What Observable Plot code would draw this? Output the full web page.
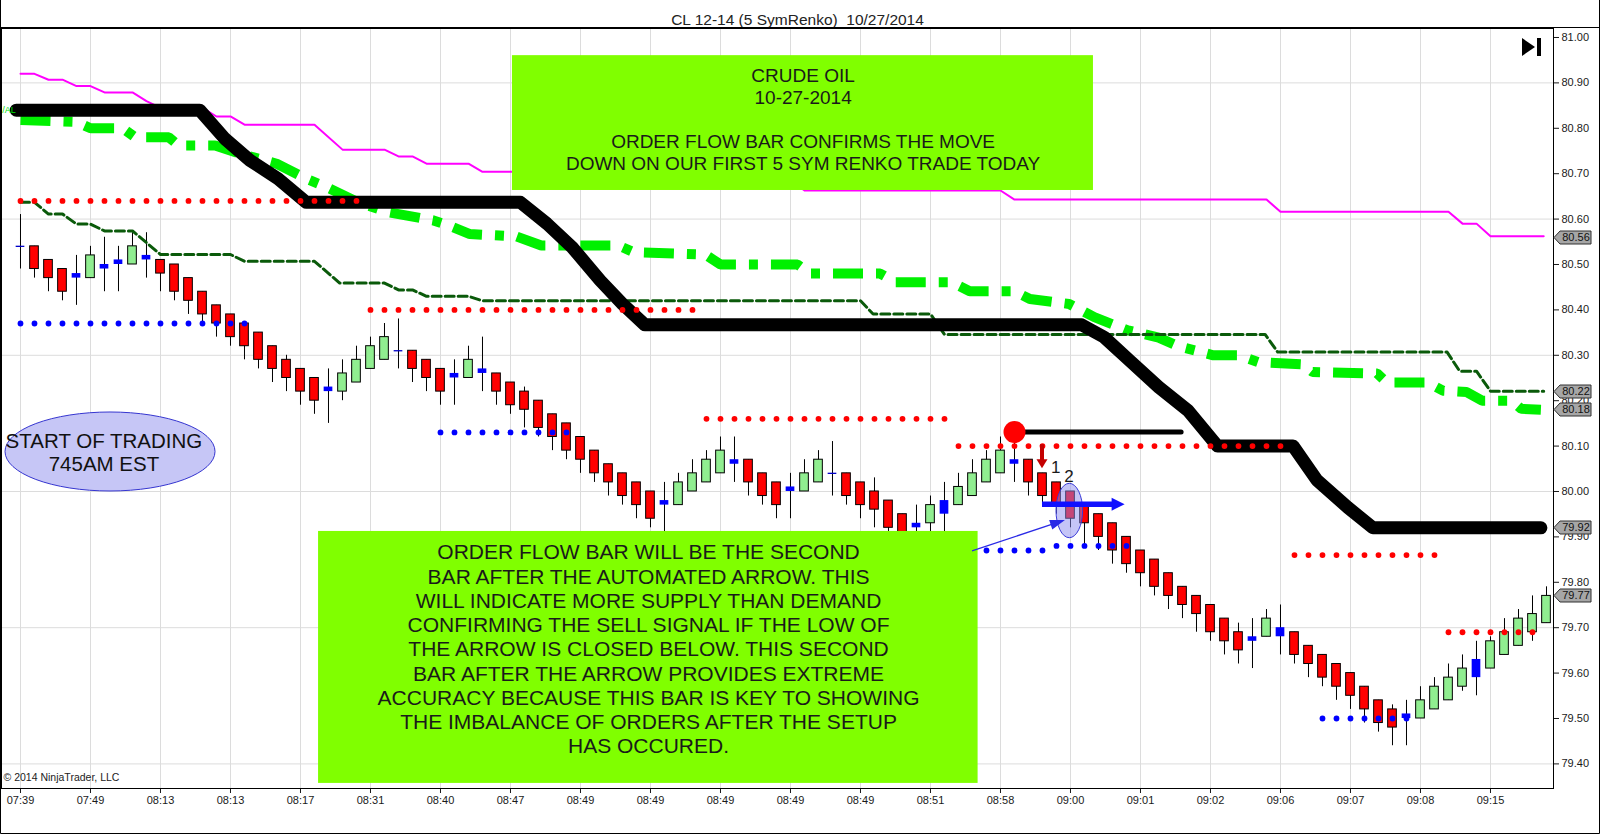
<!DOCTYPE html>
<html><head><meta charset="utf-8">
<script src="https://cdn.jsdelivr.net/npm/d3@7"></script>
<script src="https://cdn.jsdelivr.net/npm/@observablehq/plot@0.6"></script>
<style>
html,body{margin:0;padding:0;background:#fff;}
#chart{position:relative;width:1600px;height:834px;overflow:hidden;}
</style></head><body><div id="chart"></div>
<script>
// ---------------- data ----------------
const chartTitle = "CL 12-14 (5 SymRenko)  10/27/2014";
const timeLabels = ["07:39","07:49","08:13","08:13","08:17","08:31","08:40","08:47","08:49","08:49","08:49","08:49","08:49","08:51","08:58","09:00","09:01","09:02","09:06","09:07","09:08","09:15"];
const yTickLabels = ["79.40","79.50","79.60","79.70","79.80","79.90","80.00","80.10","80.20","80.30","80.40","80.50","80.60","80.70","80.80","80.90","81.00"];
const gridPrices = [79.40, 79.70, 80.00, 80.30, 80.60, 80.90];

const open = [80.54,80.54,80.51,80.49,80.48,80.47,80.50,80.51,80.50,80.52, 80.51,80.50,80.47,80.44,80.41,80.39,80.37,80.35,80.32,80.29, 80.27,80.25,80.23,80.22,80.24,80.27,80.29,80.31,80.31,80.29, 80.27,80.26,80.25,80.27,80.26,80.24,80.22,80.20,80.17,80.15, 80.12,80.09,80.06,80.04,80.02,80.00,79.98,79.97,80.00,80.02, 80.04,80.07,80.07,80.04,80.02,80.01,80.00,80.02,80.04,80.04, 80.02,80.00,79.98,79.95,79.93,79.93,79.95,79.97,79.99,80.02, 80.04,80.07,80.07,80.04,80.02,80.00,79.97,79.95,79.93,79.90, 79.87,79.85,79.82,79.79,79.77,79.75,79.72,79.69,79.68,79.68, 79.70,79.69,79.66,79.64,79.62,79.60,79.57,79.54,79.52,79.51, 79.50,79.52,79.54,79.57,79.59,79.61,79.64,79.66,79.69,79.71];
const high = [80.61,80.54,80.51,80.49,80.52,80.54,80.56,80.54,80.57,80.57, 80.51,80.50,80.47,80.44,80.41,80.39,80.37,80.35,80.32,80.30, 80.27,80.25,80.27,80.29,80.32,80.34,80.37,80.38,80.31,80.29, 80.27,80.29,80.32,80.34,80.26,80.24,80.23,80.20,80.17,80.15, 80.12,80.09,80.06,80.04,80.02,80.00,80.02,80.04,80.07,80.09, 80.12,80.12,80.07,80.04,80.02,80.04,80.07,80.09,80.11,80.04, 80.02,80.03,79.98,79.95,79.97,79.99,80.02,80.04,80.07,80.09, 80.12,80.13,80.07,80.04,80.02,80.00,79.97,79.95,79.93,79.90, 79.87,79.85,79.82,79.79,79.77,79.75,79.72,79.71,79.72,79.74, 79.75,79.69,79.66,79.64,79.62,79.60,79.57,79.54,79.53,79.54, 79.57,79.59,79.62,79.64,79.67,79.68,79.72,79.74,79.77,79.79];
const low = [80.49,80.47,80.44,80.42,80.41,80.47,80.44,80.44,80.50,80.47, 80.44,80.42,80.39,80.37,80.34,80.32,80.29,80.27,80.24,80.22, 80.19,80.17,80.15,80.20,80.24,80.27,80.29,80.27,80.24,80.22, 80.19,80.19,80.25,80.22,80.19,80.17,80.14,80.12,80.09,80.07, 80.04,80.02,79.99,79.97,79.94,79.92,79.91,79.97,80.00,80.02, 80.04,80.02,79.99,79.97,79.94,79.94,80.00,80.02,79.99,79.97, 79.94,79.92,79.90,79.88,79.89,79.91,79.91,79.97,79.99,80.02, 80.04,80.02,79.99,79.97,79.95,79.92,79.88,79.87,79.84,79.82, 79.79,79.77,79.74,79.72,79.69,79.67,79.64,79.62,79.61,79.68, 79.64,79.62,79.59,79.57,79.54,79.52,79.49,79.47,79.44,79.44, 79.50,79.52,79.54,79.56,79.55,79.61,79.64,79.66,79.67,79.71];
const close = [80.54,80.49,80.47,80.44,80.47,80.52,80.49,80.50,80.54,80.51, 80.48,80.44,80.42,80.39,80.37,80.34,80.32,80.29,80.27,80.25, 80.22,80.20,80.22,80.26,80.29,80.32,80.34,80.31,80.27,80.25, 80.22,80.25,80.29,80.26,80.22,80.19,80.18,80.14,80.12,80.09, 80.07,80.04,80.02,79.99,79.97,79.94,79.97,80.02,80.04,80.07, 80.09,80.06,80.02,79.99,79.97,80.00,80.04,80.07,80.04,79.99, 79.97,79.96,79.92,79.90,79.92,79.97,79.98,80.01,80.04,80.07, 80.09,80.06,80.02,79.99,79.97,79.94,79.93,79.90,79.87,79.84, 79.82,79.79,79.77,79.75,79.73,79.69,79.67,79.65,79.67,79.72, 79.68,79.64,79.62,79.59,79.57,79.55,79.52,79.49,79.48,79.50, 79.54,79.57,79.59,79.61,79.63,79.67,79.69,79.72,79.73,79.77];
const blueBars = [0,4,6,7,9,22,27,31,33,46,51,55,58,64,66,71,88,90,99,104];

// indicator lines: [bar index, price] vertices
const magentaLine = [[0,80.92],[1,80.92],[2,80.907],[3,80.907],[4,80.893],[5,80.893],[6,80.879],[8,80.879],[9,80.86],[10,80.845],[13,80.845],[14,80.826],[15,80.826],[16,80.808],[21,80.808],[23,80.753],[26,80.753],[27,80.738],[28,80.738],[29,80.722],[32,80.722],[33,80.704],[45,80.704],[46,80.685],[55,80.685],[56,80.663],[70,80.663],[71,80.643],[89,80.643],[90,80.616],[102,80.616],[103,80.59],[104,80.59],[105,80.562],[108.8,80.562]];
const blackLine = [[-0.3,80.84],[12.8,80.84],[14.6,80.777],[16.4,80.729],[18.4,80.689],[20.4,80.637],[35.7,80.637],[37.6,80.59],[39.4,80.538],[41.4,80.465],[43,80.413],[44.6,80.367],[75.8,80.367],[77.4,80.34],[79.2,80.289],[81.3,80.23],[83.4,80.178],[85.5,80.10],[90.9,80.10],[92.6,80.025],[94.8,79.965],[96.6,79.92],[108.6,79.92]];
const limeLine = [[0,80.818],[4,80.814],[5,80.80],[7.3,80.80],[8.2,80.78],[10.6,80.78],[11.3,80.762],[13.9,80.762],[15.7,80.744],[18.3,80.722],[20.4,80.689],[21.9,80.67],[24.1,80.637],[26.3,80.615],[29.5,80.597],[30.6,80.586],[32.1,80.567],[35.4,80.562],[37.2,80.542],[42.7,80.542],[43.8,80.527],[48.9,80.522],[50,80.50],[55.5,80.50],[56.4,80.48],[61.4,80.48],[62.5,80.461],[66.5,80.461],[67.8,80.441],[71,80.441],[72.1,80.424],[74.9,80.413],[76.7,80.384],[79.1,80.355],[81.3,80.339],[82.7,80.32],[85.2,80.30],[87,80.30],[88.4,80.285],[91.6,80.28],[92.3,80.263],[96.9,80.26],[97.6,80.24],[100.5,80.24],[101.6,80.222],[103.3,80.219],[104.4,80.20],[106.5,80.20],[107.2,80.182],[108.6,80.18]];
const darkGreenLine = [[0,80.637],[1,80.637],[2,80.611],[3,80.611],[4,80.589],[5,80.589],[6,80.574],[8,80.574],[10,80.522],[15,80.522],[16,80.507],[21,80.507],[22.8,80.459],[26,80.459],[27,80.444],[28,80.444],[29,80.43],[32,80.43],[33,80.42],[60,80.42],[60.9,80.391],[65,80.391],[66,80.346],[88.9,80.346],[89.8,80.307],[101.9,80.307],[102.8,80.265],[104,80.265],[105,80.221],[108.8,80.221]];

// dotted levels: [price, first bar, last bar]
const redDotLevels = [[80.64,0,24],[80.40,25,48],[80.16,49,66],[80.10,67,90],[79.86,91,101],[79.69,102,108]];
const blueDotLevels = [[80.37,0,16],[80.13,30,39],[79.87,68,73],[79.88,74,79],[79.50,93,99]];

const priceTags = [80.56, 80.22, 80.18, 79.92, 79.77];

// drawing objects anchored in chart units (bar index, price)
const topNote = {x1: 35.14, x2: 76.64, y1: 80.663, y2: 80.960, cx: 55.9, cy: 80.821,
  text: "CRUDE OIL\n10-27-2014\n\nORDER FLOW BAR CONFIRMS THE MOVE\nDOWN ON OUR FIRST 5 SYM RENKO TRADE TODAY"};
const bottomNote = {x1: 21.29, x2: 68.4, y1: 79.357, y2: 79.912, cx: 44.86, cy: 79.654,
  text: "ORDER FLOW BAR WILL BE THE SECOND\nBAR AFTER THE AUTOMATED ARROW. THIS\nWILL INDICATE MORE SUPPLY THAN DEMAND\nCONFIRMING THE SELL SIGNAL IF THE LOW OF\nTHE ARROW IS CLOSED BELOW. THIS SECOND\nBAR AFTER THE ARROW PROVIDES EXTREME\nACCURACY BECAUSE THIS BAR IS KEY TO SHOWING\nTHE IMBALANCE OF ORDERS AFTER THE SETUP\nHAS OCCURED."};
const startNote = {x: 6.43, y: 80.087, tx: 5.96, text: "START OF TRADING\n745AM EST"};
const signalDot = {x: 71, y: 80.131};
const signalLine = [[71, 80.131], [82.9, 80.131]];
const barLabels = [{x: 73.95, y: 80.052, t: "1"}, {x: 74.9, y: 80.034, t: "2"}];
const orderFlowEllipse = {x: 74.95, y: 79.957};
const arrows = [
  {from: [73, 80.103], to: [73, 80.05], color: "#c40000", w: 4, hl: 9, hw: 11},
  {from: [73, 79.971], to: [78.9, 79.971], color: "#1010ff", w: 5.5, hl: 13, hw: 13},
  {from: [68.0, 79.868], to: [74.64, 79.936], color: "#2a2ae6", w: 1.3, hl: 15, hw: 10}
];
const sideLabel = {x: -1.3, y: 80.84, t: "/AL"};

// ---------------- chart ----------------
const FONT = "'Liberation Sans', Arial, Helvetica, sans-serif";
const blueSet = new Set(blueBars);
const bars = open.map((o, i) => ({i, o, h: high[i], l: low[i], c: close[i], blue: blueSet.has(i)}));
const pts = arr => arr.map(([x, y]) => ({x, y}));
const expand = levels => levels.flatMap(([p, a, b]) => d3.range(a, b + 1).map(i => ({i, p})));
const yTicks = yTickLabels.map(Number);
const xTickIdx = timeLabels.map((_, k) => k * 5);

const el = (g, name, attrs) => { const e = g.append(name); for (const k in attrs) e.attr(k, attrs[k]); return e; };

const ellipsesMark = (index, scales, values, dims) => {
  const g = d3.create("svg:g");
  el(g, "ellipse", {cx: scales.x(orderFlowEllipse.x), cy: scales.y(orderFlowEllipse.y), rx: 13.3, ry: 27.2,
    fill: "#8c8cf0", "fill-opacity": 0.5, stroke: "#3a3ad8", "stroke-width": 1});
  return g.node();
};
const startEllipseMark = (index, scales, values, dims) => {
  const g = d3.create("svg:g");
  el(g, "ellipse", {cx: scales.x(startNote.x), cy: scales.y(startNote.y), rx: 105, ry: 39.5,
    fill: "#c6c6f6", stroke: "#3535d0", "stroke-width": 1});
  return g.node();
};
const arrowsMark = (index, scales, values, dims) => {
  const g = d3.create("svg:g");
  for (const a of arrows) {
    const x0 = scales.x(a.from[0]), y0 = scales.y(a.from[1]);
    const x1 = scales.x(a.to[0]), y1 = scales.y(a.to[1]);
    const len = Math.hypot(x1 - x0, y1 - y0), ux = (x1 - x0) / len, uy = (y1 - y0) / len;
    const bx = x1 - ux * a.hl, by = y1 - uy * a.hl;
    el(g, "line", {x1: x0, y1: y0, x2: bx + ux, y2: by + uy, stroke: a.color, "stroke-width": a.w});
    const px = -uy * a.hw / 2, py = ux * a.hw / 2;
    el(g, "path", {d: `M${x1},${y1}L${bx + px},${by + py}L${bx - px},${by - py}Z`, fill: a.color});
  }
  return g.node();
};
const chromeMark = (index, scales, values, dims) => {
  const g = d3.create("svg:g");
  const xr = dims.width - dims.marginRight;
  for (const v of priceTags) {
    const y = Math.round(scales.y(v)) + 0.5;
    el(g, "path", {d: `M${xr + 1},${y}L${xr + 7},${y - 6.5}H${xr + 38}V${y + 6.5}H${xr + 7}Z`, fill: "#a6a6a6", stroke: "#303030", "stroke-width": 1});
    el(g, "text", {x: xr + 23, y: y, dy: "0.36em", "text-anchor": "middle", "font-size": 11, fill: "#111"}).text(v.toFixed(2));
  }
  // "go to end" icon
  const ix = xr - 31, iy = dims.marginTop + 19;
  el(g, "path", {d: `M${ix},${iy - 9}L${ix + 13},${iy}L${ix},${iy + 9}Z`, fill: "#000"});
  el(g, "rect", {x: ix + 15, y: iy - 9, width: 4, height: 18, fill: "#000"});
  // window border
  el(g, "path", {d: `M0.5,0V${dims.height - 0.5}H${dims.width - 0.5}V0`, fill: "none", stroke: "#000"});
  el(g, "line", {x1: 0, x2: dims.width, y1: dims.marginTop - 0.5, y2: dims.marginTop - 0.5, stroke: "#000"});
  return g.node();
};

const chart = Plot.plot({
  width: 1600, height: 834,
  marginTop: 28, marginRight: 47, marginBottom: 46, marginLeft: 1,
  style: {fontFamily: FONT, fontSize: "11px", color: "#1a1a1a", background: "#fff", overflow: "visible"},
  x: {type: "linear", domain: [-1.357, 109.5], ticks: xTickIdx, tickFormat: i => timeLabels[Math.round(i / 5)], tickSize: 5, tickPadding: 3, label: null},
  y: {type: "linear", domain: [79.3458, 81.0198], axis: "right", ticks: yTicks, tickFormat: d => d.toFixed(2), tickSize: 5, tickPadding: 3, label: null},
  marks: [
    Plot.ruleX(xTickIdx, {stroke: "#dcdcdc", strokeWidth: 1}),
    Plot.ruleY(gridPrices, {stroke: "#dcdcdc", strokeWidth: 1}),
    // candles
    Plot.ruleX(bars, {x: "i", y1: "l", y2: "h", stroke: "#000", strokeWidth: 1}),
    Plot.rect(bars.filter(d => !d.blue), {x1: d => d.i - 0.31, x2: d => d.i + 0.31, y1: "o", y2: "c",
      fill: d => d.c > d.o ? "#90ee90" : "#ff0000", stroke: "#000", strokeWidth: 1}),
    Plot.rect(bars.filter(d => d.blue && d.o !== d.c), {x1: d => d.i - 0.31, x2: d => d.i + 0.31, y1: "o", y2: "c", fill: "#0000ff"}),
    Plot.ruleY(bars.filter(d => d.blue && d.o === d.c), {x1: d => d.i - 0.31, x2: d => d.i + 0.31, y: "o", stroke: "#0000c8", strokeWidth: 1.3}),
    // indicators
    Plot.line(pts(limeLine), {x: "x", y: "y", stroke: "#00f000", strokeWidth: 10, strokeDasharray: "30,13,9,13", strokeLinejoin: "miter", strokeLinecap: "butt"}),
    Plot.line(pts(darkGreenLine), {x: "x", y: "y", stroke: "#0a5a0a", strokeWidth: 3, strokeDasharray: "9,4"}),
    Plot.line(pts(magentaLine), {x: "x", y: "y", stroke: "#ff00ff", strokeWidth: 2}),
    Plot.line(pts(blackLine), {x: "x", y: "y", stroke: "#000", strokeWidth: 13, strokeLinejoin: "round"}),
    Plot.dot(expand(redDotLevels), {x: "i", y: "p", r: 2.9, fill: "#ff0000"}),
    Plot.dot(expand(blueDotLevels), {x: "i", y: "p", r: 2.9, fill: "#0000ff"}),
    // signal drawing objects
    Plot.line(pts(signalLine), {x: "x", y: "y", stroke: "#000", strokeWidth: 5}),
    Plot.dot([signalDot], {x: "x", y: "y", r: 11, fill: "#ff0000"}),
    Plot.text(barLabels, {x: "x", y: "y", text: "t", fontSize: 17, fill: "#1a1a1a"}),
    ellipsesMark,
    // notes
    Plot.rect([topNote, bottomNote], {x1: "x1", x2: "x2", y1: "y1", y2: "y2", fill: "#80ff00"}),
    Plot.text([topNote], {x: "cx", y: "cy", text: "text", fontSize: 19, lineHeight: 1.153, lineAnchor: "middle", fill: "#1a1a1a"}),
    Plot.text([bottomNote], {x: "cx", y: "cy", text: "text", fontSize: 21, lineHeight: 1.155, lineAnchor: "middle", fill: "#1a1a1a"}),
    arrowsMark,
    startEllipseMark,
    Plot.text([startNote], {x: "tx", y: "y", text: "text", fontSize: 20.5, lineHeight: 1.12, lineAnchor: "middle", fill: "#111"}),
    Plot.text([sideLabel], {x: "x", y: "y", text: "t", fontSize: 9, fill: "#00e000", textAnchor: "start"}),
    Plot.frame({stroke: "#000"}),
    Plot.text([chartTitle], {text: d => d, frameAnchor: "top", dx: 20, dy: -15, fontSize: 15.5, fill: "#222"}),
    Plot.text(["\u00a9 2014 NinjaTrader, LLC"], {text: d => d, frameAnchor: "bottom-left", dx: 2, dy: -8, fontSize: 10.5, textAnchor: "start", fill: "#222"}),
    chromeMark
  ]
});
document.getElementById("chart").appendChild(chart);
</script></body></html>
